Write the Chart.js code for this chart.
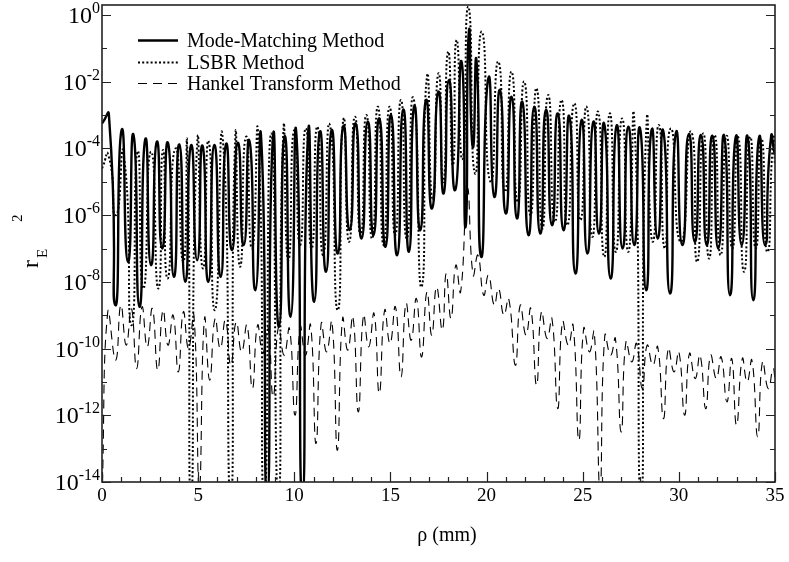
<!DOCTYPE html>
<html>
<head>
<meta charset="utf-8">
<script src="https://cdn.jsdelivr.net/npm/chart.js@4.4.1/dist/chart.umd.min.js"></script>
<style>
  html, body { margin: 0; padding: 0; background: #fff; }
  #wrap { width: 789px; height: 562px; }
</style>
</head>
<body>
<div id="wrap"><canvas id="chart" width="789" height="562"></canvas></div>
<script>
// rho (mm) and log10(r_E^2) at the lobe tops and at the nulls between them

const modeMatchingPeaks = [
  [0.36,-3.0],[1.02,-3.45],[1.64,-3.6],[2.25,-3.73],[2.85,-3.8],[3.43,-3.83],[4.02,-3.88],[4.63,-3.91],
  [5.23,-3.92],[5.84,-3.9],[6.45,-3.87],[7.06,-3.83],[7.67,-3.78],[8.28,-3.72],[8.89,-3.68],[9.50,-3.63],
  [10.11,-3.58],[10.72,-3.54],[11.33,-3.5],[11.94,-3.45],[12.55,-3.33],[13.19,-3.25],[13.82,-3.2],[14.42,-3.1],
  [15.03,-3.0],[15.67,-2.83],[16.24,-2.73],[16.85,-2.55],[17.49,-2.3],[18.04,-1.95],[18.70,-1.4],[19.08,-0.5],
  [19.48,-1.4],[20.09,-1.9],[20.70,-2.25],[21.30,-2.45],[21.86,-2.6],[22.48,-2.75],[23.09,-2.85],[23.70,-2.95],
  [24.31,-3.05],[24.94,-3.15],[25.55,-3.2],[26.12,-3.27],[26.76,-3.32],[27.37,-3.35],[27.98,-3.4],[28.58,-3.45],
  [29.19,-3.48],[29.85,-3.52],[30.52,-3.57],[31.15,-3.6],[31.74,-3.62],[32.36,-3.63],[32.96,-3.65],[33.58,-3.66],
  [34.17,-3.67],[34.79,-3.68]
];
const modeMatchingDips = [
  [0,-3.25],[0.70,-8.7],[1.35,-7.4],[1.95,-8.75],[2.55,-7.5],[3.13,-7.0],[3.74,-7.85],[4.33,-8.0],[4.95,-7.35],
  [5.53,-8.0],[6.17,-7.85],[6.76,-7.05],[7.37,-6.9],[7.98,-8.25],[8.59,-14.5],[9.2,-9.35],[9.81,-9.05],
  [10.42,-14.5],[11.03,-8.6],[11.65,-7.7],[12.26,-7.15],[12.88,-6.45],[13.5,-6.7],[14.12,-6.6],[14.74,-6.95],
  [15.35,-7.2],[15.96,-7.1],[16.55,-6.45],[17.16,-5.8],[17.77,-5.35],[18.37,-5.25],[18.91,-6.35],[19.28,-3.95],
  [19.72,-7.25],[20.4,-5.45],[21.0,-5.95],[21.58,-6.1],[22.18,-6.6],[22.79,-6.55],[23.4,-6.3],[24.0,-6.45],
  [24.62,-7.75],[25.24,-7.15],[25.84,-6.55],[26.45,-7.9],[27.07,-7.0],[27.68,-6.9],[28.3,-8.25],[28.9,-6.7],
  [29.54,-8.35],[30.18,-6.9],[30.83,-6.8],[31.45,-6.9],[32.05,-7.0],[32.66,-8.4],[33.27,-6.9],[33.87,-8.55],
  [34.48,-6.9],[35,-4.2]
];

const lsbrPeaks = [
  [0.33,-4.2],[1.12,-4.15],[1.85,-4.1],[2.55,-4.1],[3.17,-4.05],[3.82,-4.0],[4.43,-3.95],[4.95,-3.85],
  [5.55,-3.8],[6.28,-3.7],[6.93,-3.7],[7.49,-3.65],[8.12,-3.6],[8.8,-3.55],[9.43,-3.5],[10.0,-3.45],
  [10.6,-3.4],[11.2,-3.35],[11.85,-3.3],[12.55,-3.15],[13.15,-3.05],[13.75,-3.0],[14.35,-2.75],[14.95,-2.75],
  [15.55,-2.55],[16.2,-2.5],[16.9,-1.85],[17.5,-1.75],[18.0,-1.1],[18.44,-0.75],[19.05,0.25],[19.75,-0.5],
  [20.61,-1.4],[21.3,-1.7],[21.96,-2.0],[22.6,-2.2],[23.2,-2.4],[23.9,-2.55],[24.56,-2.65],[25.2,-2.75],
  [25.8,-2.9],[26.41,-2.95],[27.05,-3.1],[27.68,-3.15],[28.32,-3.25],[28.96,-3.3],[29.58,-3.4],[30.64,-3.5],
  [31.27,-3.55],[31.86,-3.6],[32.48,-3.62],[33.08,-3.65],[33.7,-3.67],[34.29,-3.7],[34.91,-3.72]
];
const lsbrDips = [
  [0,-4.6],[0.72,-6.0],[1.54,-9.3],[2.15,-8.2],[2.93,-8.2],[3.41,-7.9],[4.23,-7.4],[4.63,-14.5],[5.25,-7.6],
  [5.87,-8.85],[6.69,-14.5],[7.18,-7.55],[7.8,-7.0],[8.44,-14.5],[9.17,-14.5],[9.69,-7.35],[10.3,-6.9],
  [10.9,-7.0],[11.5,-7.2],[12.26,-8.85],[12.85,-6.8],[13.45,-6.6],[14.05,-6.7],[14.65,-6.9],[15.25,-6.6],
  [15.85,-6.7],[16.62,-8.15],[17.2,-5.5],[17.75,-5.0],[18.25,-4.5],[18.75,-4.3],[19.4,-4.75],[20.2,-5.0],
  [20.95,-5.3],[21.62,-5.6],[22.28,-6.0],[22.9,-6.4],[23.55,-6.2],[24.2,-6.3],[24.88,-6.15],[25.5,-6.65],
  [26.12,-7.25],[26.72,-7.1],[27.37,-7.1],[28.03,-14.5],[28.64,-6.8],[29.27,-7.0],[30.1,-6.8],[30.95,-7.4],
  [31.57,-7.3],[32.17,-7.2],[32.78,-7.0],[33.39,-7.7],[34.0,-7.0],[34.6,-7.1],[35,-4.5]
];

const hankelPeaks = [
  [0.3,-8.9],[0.98,-8.7],[1.53,-8.8],[2.08,-8.75],[2.62,-8.8],[3.17,-8.85],[3.7,-9.0],[4.23,-8.9],
  [4.78,-9.0],[5.33,-9.1],[5.88,-9.1],[6.42,-9.15],[6.98,-9.2],[7.54,-9.3],[8.09,-9.3],[8.63,-9.35],
  [9.18,-9.35],[9.75,-9.4],[10.31,-9.35],[10.85,-9.3],[11.4,-9.25],[11.96,-9.2],[12.51,-9.1],[13.05,-9.05],
  [13.6,-9.0],[14.15,-8.95],[14.7,-8.85],[15.26,-8.75],[15.81,-8.65],[16.35,-8.5],[16.9,-8.3],[17.4,-8.15],
  [17.9,-7.75],[18.4,-7.5],[19.0,-5.2],[19.55,-7.2],[20.1,-7.8],[20.62,-8.2],[21.15,-8.5],[21.75,-8.7],
  [22.3,-8.8],[22.85,-8.9],[23.4,-9.1],[23.95,-9.2],[24.5,-9.3],[25.05,-9.4],[25.6,-9.5],[26.15,-9.6],
  [26.7,-9.7],[27.25,-9.8],[27.8,-9.85],[28.35,-9.9],[28.9,-9.95],[29.45,-10.0],[30.0,-10.1],[30.55,-10.15],
  [31.1,-10.2],[31.65,-10.2],[32.2,-10.25],[32.75,-10.3],[33.3,-10.3],[33.8,-10.35],[34.35,-10.4],[34.9,-10.6]
];
const hankelDips = [
  [0,-14.5],[0.71,-10.35],[1.26,-9.9],[1.8,-10.6],[2.35,-9.95],[2.9,-10.65],[3.43,-9.9],[3.97,-10.7],
  [4.5,-10.0],[5.06,-14.2],[5.6,-10.95],[6.15,-10.0],[6.7,-10.5],[7.26,-10.1],[7.82,-11.2],[8.36,-10.15],
  [8.9,-11.45],[9.47,-10.2],[10.04,-12.0],[10.58,-10.2],[11.13,-12.85],[11.68,-10.1],[12.24,-13.05],
  [12.78,-10.05],[13.33,-11.9],[13.87,-9.95],[14.42,-11.35],[14.98,-9.85],[15.55,-10.85],[16.08,-9.75],
  [16.62,-10.25],[17.15,-9.6],[17.7,-9.45],[18.15,-9.1],[18.65,-8.3],[19.3,-7.8],[19.85,-8.4],[20.4,-8.7],
  [20.9,-9.0],[21.5,-10.5],[22.05,-9.6],[22.6,-11.1],[23.15,-9.7],[23.7,-11.8],[24.25,-9.9],[24.8,-12.75],
  [25.35,-10.1],[25.9,-14.2],[26.45,-10.2],[27.0,-12.5],[27.55,-10.4],[28.1,-11.2],[28.65,-10.5],[29.2,-12.1],
  [29.75,-10.7],[30.3,-12.0],[30.85,-10.9],[31.4,-11.8],[31.95,-10.9],[32.5,-11.6],[33.0,-12.3],[33.55,-11.0],
  [34.1,-12.65],[34.65,-11.2],[35,-10.9]
];

const xTickLabels = ['0', '5', '10', '15', '20', '25', '30', '35'];
const yTickExponents = [0, -2, -4, -6, -8, -10, -12, -14];

const legendLabels = ['Mode-Matching Method', 'LSBR Method', 'Hankel Transform Method'];

const SERIF = "'Liberation Serif', 'Times New Roman', serif";

// merge tops and nulls into one trace, sorted along rho
function buildTrace(peaks, dips) {
  return peaks.concat(dips)
    .sort((a, b) => a[0] - b[0])
    .map(p => ({ x: p[0], y: Math.pow(10, p[1]) }));
}

// frame with inward ticks, tick labels, axis titles and the legend box
const framePlugin = {
  id: 'frame',
  afterDatasetsDraw(chart) {
    const { ctx, chartArea: a, scales } = chart;
    const xs = scales.x, ys = scales.y;
    ctx.save();
    ctx.strokeStyle = '#222';
    ctx.lineWidth = 1.6;
    ctx.strokeRect(a.left, a.top, a.right - a.left, a.bottom - a.top);

    ctx.lineWidth = 1.2;
    ctx.beginPath();
    for (let e = 0; e >= -14; e--) {
      const y = Math.round(ys.getPixelForValue(Math.pow(10, e))) + 0.5;
      const len = e % 2 === 0 ? 9 : 5;
      ctx.moveTo(a.left, y); ctx.lineTo(a.left + len, y);
      ctx.moveTo(a.right, y); ctx.lineTo(a.right - len, y);
    }
    for (let v = 0; v <= 35; v++) {
      const x = Math.round(xs.getPixelForValue(v)) + 0.5;
      const len = v % 5 === 0 ? 10 : 5;
      ctx.moveTo(x, a.bottom); ctx.lineTo(x, a.bottom - len);
    }
    ctx.stroke();

    ctx.fillStyle = '#000';
    ctx.textBaseline = 'alphabetic';

    // y labels: 10 with a raised exponent
    yTickExponents.forEach(e => {
      const y = ys.getPixelForValue(Math.pow(10, e));
      const ex = String(e);
      ctx.font = '16px ' + SERIF;
      const ew = ctx.measureText(ex).width;
      ctx.font = '24px ' + SERIF;
      const bw = ctx.measureText('10').width;
      const right = a.left - 2;
      ctx.textAlign = 'left';
      ctx.fillText('10', right - ew - bw, y + 8);
      ctx.font = '16px ' + SERIF;
      ctx.fillText(ex, right - ew, y - 2);
    });

    // x labels
    ctx.font = '19px ' + SERIF;
    ctx.textAlign = 'center';
    xTickLabels.forEach(t => {
      ctx.fillText(t, xs.getPixelForValue(Number(t)), a.bottom + 19);
    });

    // x title
    ctx.font = '20px ' + SERIF;
    ctx.fillText('\u03C1 (mm)', 447, 541);

    // y title r_E^2, rotated
    ctx.save();
    ctx.translate(38, 268);
    ctx.rotate(-Math.PI / 2);
    ctx.textAlign = 'left';
    ctx.font = '24px ' + SERIF;
    ctx.fillText('r', 0, 0);
    const rw = ctx.measureText('r').width;
    ctx.font = '15px ' + SERIF;
    ctx.fillText('E', rw + 2, 9);
    ctx.fillText('2', 46, -16);
    ctx.restore();

    // legend
    const styles = chart.data.datasets;
    const rows = [40, 62, 83];
    legendLabels.forEach((label, i) => {
      const ds = styles[i];
      ctx.save();
      ctx.strokeStyle = '#000';
      ctx.lineWidth = ds.borderWidth;
      ctx.setLineDash(ds.borderDash || []);
      ctx.beginPath();
      ctx.moveTo(138, rows[i] + 0.5);
      ctx.lineTo(178, rows[i] + 0.5);
      ctx.stroke();
      ctx.restore();
      ctx.font = '20px ' + SERIF;
      ctx.textAlign = 'left';
      ctx.fillText(label, 187, rows[i] + 7);
    });
    ctx.restore();
  }
};

const ctx = document.getElementById('chart').getContext('2d');
new Chart(ctx, {
  type: 'line',
  data: {
    datasets: [
      {
        label: legendLabels[0],
        data: buildTrace(modeMatchingPeaks, modeMatchingDips),
        borderColor: '#000',
        borderWidth: 2.4,
        tension: 0.8
      },
      {
        label: legendLabels[1],
        data: buildTrace(lsbrPeaks, lsbrDips),
        borderColor: '#000',
        borderWidth: 2,
        borderDash: [2, 2.2],
        tension: 0.8
      },
      {
        label: legendLabels[2],
        data: buildTrace(hankelPeaks, hankelDips),
        borderColor: '#000',
        borderWidth: 1.1,
        borderDash: [9, 6],
        tension: 0.5
      }
    ]
  },
  options: {
    responsive: false,
    animation: false,
    layout: { padding: { left: 102, right: 14, top: 5, bottom: 80 } },
    elements: { point: { radius: 0 } },
    plugins: { legend: { display: false }, tooltip: { enabled: false } },
    scales: {
      x: { type: 'linear', min: 0, max: 35, display: false },
      y: { type: 'logarithmic', min: 1e-14, max: Math.pow(10, 0.3), display: false }
    }
  },
  plugins: [framePlugin]
});
</script>
</body>
</html>
